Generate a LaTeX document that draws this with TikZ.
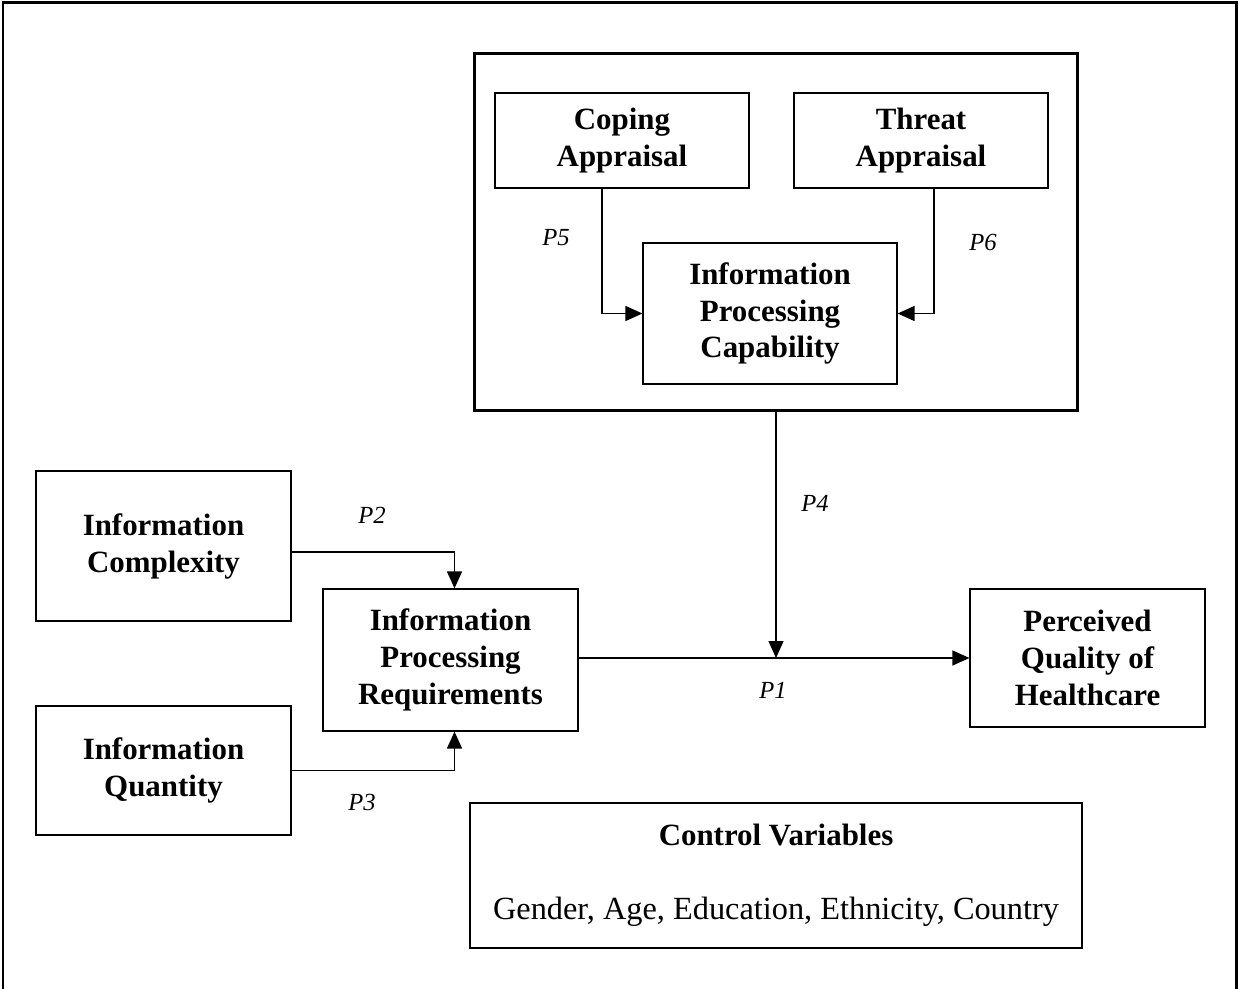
\documentclass[tikz,border=0pt]{standalone}
\usepackage{fontspec}
\setmainfont{Liberation Serif}
\usetikzlibrary{arrows.meta}
\pgfdeclarelayer{bg}
\pgfsetlayers{bg,main}

\tikzset{
  box/.style={draw, line width=0.7pt, align=center, inner sep=0pt,
    font=\fontsize{17.6}{21}\selectfont\bfseries},
  plabel/.style={font=\fontsize{14}{16}\selectfont\itshape},
  arr/.style={-{Triangle[length=0.34cm,width=0.3cm]}, line width=0.7pt}
}

\begin{document}
\begin{tikzpicture}[x=0.02cm, y=-0.02cm]
        \useasboundingbox (0,0) rectangle (1239,989);
        \draw[line width=1.7pt] (3,995) -- (3,3) -- (1236,3) -- (1236,995);

        \node (grp) [draw, line width=1.7pt, minimum width=12.08cm, minimum height=7.16cm] at (776,232) {};
        \node (copa) [box, minimum width=5.08cm, minimum height=1.9cm] at (622,140.5) {Coping\\Appraisal};
        \node (thra) [box, minimum width=5.08cm, minimum height=1.9cm] at (921,140.5) {Threat\\Appraisal};
        \node (ipc) [box, minimum width=5.08cm, minimum height=2.82cm] at (770,313.5) {Information\\Processing\\Capability};
        \node (ic) [box, minimum width=5.1cm, minimum height=3cm] at (163.5,546) {Information\\Complexity};
        \node (iq) [box, minimum width=5.1cm, minimum height=2.58cm] at (163.5,770.5) {Information\\Quantity};
        \node (ipr) [box, minimum width=5.1cm, minimum height=2.84cm] at (450.5,660) {Information\\Processing\\Requirements};
        \node (pqh) [box, minimum width=4.7cm, minimum height=2.76cm] at (1087.5,658) {Perceived\\Quality of\\Healthcare};
        \node (ctrl) [box, minimum width=12.24cm, minimum height=2.9cm] at (776,875.5) {Control Variables\\[21pt]\mdseries\fontsize{18.4}{21}\selectfont Gender, Age, Education, Ethnicity, Country};

        \node (p1) [plabel] at (773,690) {P1};
        \node (p2) [plabel] at (372,515) {P2};
        \node (p3) [plabel] at (362,802) {P3};
        \node (p4) [plabel] at (815,503) {P4};
        \node (p5) [plabel] at (556,238) {P5};
        \node (p6) [plabel] at (983,242) {P6};

        \begin{pgfonlayer}{bg}
                \draw[arr] ([xshift=-0.4cm]copa.south) |- (ipc.west);
                \draw[arr] ([xshift=0.26cm]thra.south) |- (ipc.east);
                \draw[arr] ([yshift=-0.12cm]ic.east) -| ([xshift=0.08cm]ipr.north);
                \draw[arr] (iq.east) -| ([xshift=0.08cm]ipr.south);
                \draw[arr] (ipr.east |- pqh.west) -- (pqh.west);
                \draw[arr] (grp.south) -- (grp.south |- pqh.west);
        \end{pgfonlayer}
\end{tikzpicture}
\end{document}
